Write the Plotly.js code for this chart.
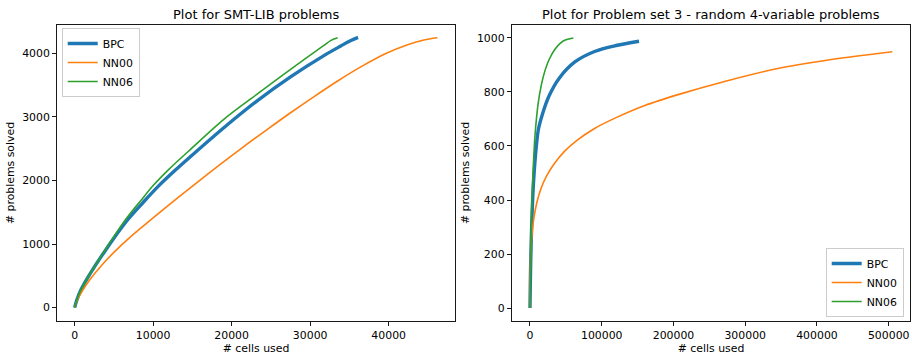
<!DOCTYPE html>
<html>
<head>
<meta charset="utf-8">
<script src="https://cdn.plot.ly/plotly-3.0.1.min.js"></script>
<style>html,body{margin:0;padding:0;background:#fff;}#chart{width:912px;height:356px;}</style>
</head>
<body>
<div id="chart"></div>
<script>
// ---- Data ----
// Left: SMT-LIB problems
const smtBpcX  = [0, 250, 800, 1800, 3800, 6600, 8800, 10700, 12800, 14700, 19000, 23200, 27500, 31700, 33900, 35000, 36100];
const smtBpcY  = [0, 110, 280, 500, 880, 1360, 1665, 1915, 2160, 2370, 2830, 3249, 3630, 3960, 4115, 4190, 4250];
const smtNn00X = [0, 300, 1000, 2000, 3500, 5000, 7000, 9000, 11000, 13000, 15500, 18500, 21500, 24500, 27500, 30500, 33500, 36500, 39500, 42500, 44500, 46200];
const smtNn00Y = [0, 110, 270, 450, 675, 870, 1100, 1310, 1515, 1715, 1960, 2250, 2530, 2800, 3065, 3320, 3565, 3790, 3990, 4140, 4210, 4245];
const smtNn06X = [0, 250, 800, 1800, 3700, 6400, 8600, 10000, 12000, 14500, 19000, 23200, 27500, 31700, 32600, 33500];
const smtNn06Y = [0, 110, 280, 500, 870, 1370, 1710, 1920, 2175, 2460, 2961, 3354, 3748, 4120, 4200, 4245];

// Right: Problem set 3 - random 4-variable problems
const ps3BpcX  = [0, 300, 1000, 2400, 4600, 7500, 11600, 17000, 26500, 41000, 63000, 90000, 120000, 152000];
const ps3BpcY  = [0, 60, 170, 310, 450, 560, 660, 715, 785, 852, 912, 950, 972, 988];
const ps3Nn00X = [0, 150, 600, 1500, 3000, 5500, 9500, 15000, 23000, 34000, 48000, 65000, 90000, 120000, 160000, 210000, 270000, 340000, 420000, 505000];
const ps3Nn00Y = [0, 90, 170, 225, 280, 335, 390, 440, 488, 535, 580, 620, 665, 705, 750, 793, 838, 884, 920, 949];
const ps3Nn06X = [0, 300, 900, 2300, 4000, 7000, 11500, 16000, 21000, 27000, 34800, 42000, 50000, 60400];
const ps3Nn06Y = [0, 60, 170, 360, 490, 640, 760, 828, 880, 922, 958, 980, 993, 1000];

const seriesNames = ['BPC', 'NN00', 'NN06'];
const titles = ['Plot for SMT-LIB problems', 'Plot for Problem set 3 - random 4-variable problems'];
const xLabel = '# cells used';
const yLabel = '# problems solved';

// ---- Styles ----
const colors = ['#1f77b4', '#ff7f0e', '#2ca02c'];
const widths = [3.4, 1.6, 1.6];
const FONT = 'DejaVu Sans, sans-serif';

function tr(x, y, i, ax, leg) {
  return {
    x: x, y: y, type: 'scatter', mode: 'lines', name: seriesNames[i],
    line: {color: colors[i], width: widths[i], shape: 'spline', smoothing: 0.9},
    xaxis: ax[0], yaxis: ax[1], legend: leg, showlegend: true, hoverinfo: 'skip'
  };
}

const data = [
  tr(smtBpcX, smtBpcY, 0, ['x', 'y'], 'legend'),
  tr(smtNn00X, smtNn00Y, 1, ['x', 'y'], 'legend'),
  tr(smtNn06X, smtNn06Y, 2, ['x', 'y'], 'legend'),
  tr(ps3BpcX, ps3BpcY, 0, ['x2', 'y2'], 'legend2'),
  tr(ps3Nn00X, ps3Nn00Y, 1, ['x2', 'y2'], 'legend2'),
  tr(ps3Nn06X, ps3Nn06Y, 2, ['x2', 'y2'], 'legend2')
];

const W = 912, H = 356;
function axisBase() {
  return {
    showgrid: false, zeroline: false, showline: true, mirror: true,
    linecolor: '#000', linewidth: 0.9, ticks: 'outside', ticklen: 4, tickwidth: 0.9,
    tickcolor: '#000', tickfont: {family: FONT, size: 10.9, color: '#000'},
    tickformat: 'd', exponentformat: 'none', automargin: false
  };
}

const yDom = [(H - 321) / H, (H - 25) / H];
const layout = {
  width: W, height: H,
  margin: {l: 0, r: 0, t: 0, b: 0},
  paper_bgcolor: '#fff', plot_bgcolor: '#fff',
  font: {family: FONT, size: 10.9, color: '#000'},
  xaxis: Object.assign(axisBase(), {domain: [57 / W, 455 / W], range: [-2250, 48450], dtick: 10000, tick0: 0,
    title: {text: xLabel, font: {family: FONT, size: 10.9}, standoff: 3}, anchor: 'y'}),
  yaxis: Object.assign(axisBase(), {domain: yDom, range: [-210, 4445], dtick: 1000, tick0: 0,
    title: {text: yLabel, font: {family: FONT, size: 10.9}, standoff: 5}, anchor: 'x'}),
  xaxis2: Object.assign(axisBase(), {domain: [511.7 / W, 910.3 / W], range: [-25500, 530100], dtick: 100000, tick0: 0,
    title: {text: xLabel, font: {family: FONT, size: 10.9}, standoff: 3}, anchor: 'y2'}),
  yaxis2: Object.assign(axisBase(), {domain: yDom, range: [-48, 1048], dtick: 200, tick0: 0,
    title: {text: yLabel, font: {family: FONT, size: 10.9}, standoff: 5}, anchor: 'x2'}),
  legend: {x: 61.7 / W, y: (H - 28) / H, xanchor: 'left', yanchor: 'top',
    bgcolor: '#fff', bordercolor: '#cccccc', borderwidth: 1, font: {family: FONT, size: 10.9}},
  legend2: {x: 903.7 / W, y: (H - 317) / H, xanchor: 'right', yanchor: 'bottom',
    bgcolor: '#fff', bordercolor: '#cccccc', borderwidth: 1, font: {family: FONT, size: 10.9}},
  annotations: [
    {text: titles[0], xref: 'paper', yref: 'paper', x: 256 / W, y: (H - 14.5) / H, xanchor: 'center', yanchor: 'middle',
      showarrow: false, font: {family: FONT, size: 13, color: '#000'}},
    {text: titles[1], xref: 'paper', yref: 'paper', x: 711 / W, y: (H - 14.5) / H, xanchor: 'center', yanchor: 'middle',
      showarrow: false, font: {family: FONT, size: 13, color: '#000'}}
  ]
};

Plotly.newPlot('chart', data, layout, {staticPlot: true, displayModeBar: false});
</script>
</body>
</html>
